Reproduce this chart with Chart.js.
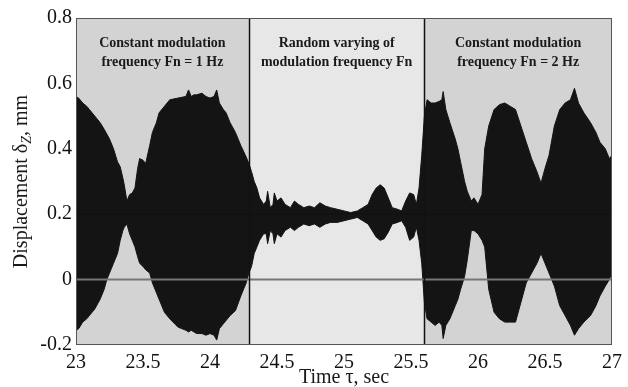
<!DOCTYPE html>
<html>
<head>
<meta charset="utf-8">
<script src="https://cdn.jsdelivr.net/npm/chart.js@4.4.1/dist/chart.umd.min.js"></script>
<style>
  html, body { margin: 0; padding: 0; background: #fff; }
  #wrap { width: 628px; height: 387px; }
</style>
</head>
<body>
<div id="wrap"><canvas id="dispChart" width="628" height="387"></canvas></div>
<script>
// envelope of the (very dense) displacement signal
const times = [
    23.00, 23.02, 23.05, 23.08, 23.10, 23.14, 23.18, 23.21, 23.23, 23.25,
    23.28, 23.31, 23.33, 23.35, 23.36, 23.38, 23.40, 23.42, 23.44, 23.46,
    23.475, 23.50, 23.52, 23.55, 23.57, 23.60, 23.62, 23.66, 23.70, 23.76,
    23.82, 23.84, 23.86, 23.88, 23.90, 23.94, 23.97, 24.00, 24.03, 24.05,
    24.07, 24.10, 24.12, 24.15, 24.19, 24.23, 24.27, 24.29,
    24.31, 24.33, 24.35, 24.37, 24.40, 24.42, 24.43, 24.45, 24.47, 24.48,
    24.50, 24.53, 24.56, 24.60, 24.63, 24.66, 24.70, 24.74, 24.78, 24.82,
    24.86, 24.90, 24.95, 25.00, 25.05, 25.10, 25.14, 25.18, 25.21, 25.24,
    25.27, 25.30, 25.33, 25.36, 25.40, 25.43, 25.46, 25.49, 25.52, 25.54,
    25.56, 25.58,
    25.60, 25.62, 25.65, 25.68, 25.71, 25.73, 25.74, 25.76, 25.79, 25.83,
    25.85, 25.87, 25.90, 25.92, 25.95, 25.97, 26.00, 26.03, 26.05, 26.08,
    26.12, 26.16, 26.20, 26.24, 26.28, 26.32, 26.36, 26.40, 26.44, 26.47,
    26.50, 26.53, 26.57, 26.61, 26.65, 26.69, 26.72, 26.75, 26.79, 26.84,
    26.88, 26.91, 26.95, 26.98, 27.00
];
const upperEnv = [
    0.56, 0.555, 0.54, 0.53, 0.52, 0.50, 0.48, 0.46, 0.445, 0.43,
    0.40, 0.36, 0.345, 0.31, 0.29, 0.24, 0.26, 0.265, 0.28, 0.34,
    0.37, 0.365, 0.355, 0.41, 0.45, 0.48, 0.51, 0.53, 0.55, 0.555,
    0.56, 0.58, 0.56, 0.565, 0.565, 0.57, 0.56, 0.555, 0.56, 0.58,
    0.54, 0.52, 0.51, 0.48, 0.45, 0.41, 0.375, 0.355,
    0.33, 0.30, 0.28, 0.25, 0.23, 0.24, 0.27, 0.22, 0.23, 0.265,
    0.24, 0.25, 0.23, 0.22, 0.24, 0.23, 0.22, 0.225, 0.22, 0.235,
    0.225, 0.22, 0.215, 0.21, 0.205, 0.21, 0.22, 0.23, 0.26, 0.28,
    0.29, 0.28, 0.25, 0.22, 0.215, 0.21, 0.24, 0.265, 0.26, 0.23,
    0.28, 0.38,
    0.50, 0.55, 0.54, 0.54, 0.545, 0.55, 0.575, 0.52, 0.48, 0.43,
    0.40, 0.36, 0.30, 0.27, 0.24, 0.25, 0.23, 0.26, 0.40, 0.47,
    0.52, 0.535, 0.54, 0.53, 0.52, 0.47, 0.42, 0.37, 0.33, 0.295,
    0.34, 0.38, 0.47, 0.52, 0.54, 0.55, 0.585, 0.54, 0.51, 0.48,
    0.45, 0.42, 0.40, 0.37, 0.38
];
const lowerEnv = [
    -0.155, -0.15, -0.13, -0.12, -0.11, -0.09, -0.06, -0.03, 0.0, 0.02,
    0.05, 0.08, 0.12, 0.15, 0.16, 0.17, 0.14, 0.12, 0.10, 0.07,
    0.05, 0.04, 0.03, 0.02, -0.01, -0.04, -0.06, -0.10, -0.12, -0.145,
    -0.155, -0.16, -0.155, -0.16, -0.165, -0.165, -0.17, -0.165, -0.17, -0.185,
    -0.15, -0.135, -0.125, -0.11, -0.095, -0.05, -0.01, 0.02,
    0.04, 0.08, 0.10, 0.12, 0.14, 0.14, 0.11, 0.15, 0.14, 0.11,
    0.14, 0.13, 0.15, 0.16, 0.15, 0.16, 0.17, 0.165, 0.17, 0.16,
    0.17, 0.175, 0.175, 0.18, 0.185, 0.19, 0.18, 0.17, 0.15, 0.13,
    0.12, 0.125, 0.145, 0.17, 0.175, 0.18, 0.16, 0.12, 0.13, 0.16,
    0.12, 0.05,
    -0.07, -0.12, -0.13, -0.14, -0.13, -0.14, -0.18, -0.14, -0.12, -0.08,
    -0.06, -0.03, 0.01, 0.06, 0.15, 0.15, 0.14, 0.12, 0.10, -0.03,
    -0.10, -0.12, -0.13, -0.13, -0.13, -0.07, -0.01, 0.02, 0.05, 0.08,
    0.05, 0.02, -0.02, -0.08, -0.11, -0.14, -0.17, -0.15, -0.13, -0.11,
    -0.08, -0.05, -0.02, 0.0, 0.02
];

const regionEdges = [23, 24.29, 25.6, 27];
const regionNotes = [
    ['Constant modulation', 'frequency Fn = 1 Hz'],
    ['Random varying of', 'modulation frequency Fn'],
    ['Constant modulation', 'frequency Fn = 2 Hz']
];
const regionColors = ['#d3d3d3', '#e7e7e7', '#d3d3d3'];

const xTickLabels = ['23', '23.5', '24', '24.5', '25', '25.5', '26', '26.5', '27'];
const yTickLabels = ['-0.2', '0', '0.2', '0.4', '0.6', '0.8'];
const refLines = [{ y: 0.2, color: '#111', width: 1.5 }, { y: 0, color: '#777', width: 2 }];

const SERIF = "'Liberation Serif', 'Times New Roman', serif";


/**
 * background bands, reference lines, notes and axis titles
 */
const decorPlugin = {
    id: 'decor',
    beforeDatasetsDraw(chart) {
        const { ctx, chartArea: a, scales: { x } } = chart;
        ctx.save();
        for (let i = 0; i < regionColors.length; i++) {
            const x0 = x.getPixelForValue(regionEdges[i]);
            const x1 = x.getPixelForValue(regionEdges[i + 1]);
            ctx.fillStyle = regionColors[i];
            ctx.fillRect(x0, a.top, x1 - x0, a.bottom - a.top);
        }
        ctx.restore();
    },
    afterDatasetsDraw(chart) {
        const { ctx, chartArea: a, scales: { x, y } } = chart;
        ctx.save();

        refLines.forEach(function (l) {
            const py = y.getPixelForValue(l.y);
            ctx.strokeStyle = l.color;
            ctx.lineWidth = l.width;
            ctx.beginPath();
            ctx.moveTo(a.left, py);
            ctx.lineTo(a.right, py);
            ctx.stroke();
        });

        ctx.strokeStyle = '#111';
        ctx.lineWidth = 1.5;
        for (let i = 1; i < regionEdges.length - 1; i++) {
            const px = Math.round(x.getPixelForValue(regionEdges[i])) + 0.5;
            ctx.beginPath();
            ctx.moveTo(px, a.top);
            ctx.lineTo(px, a.bottom);
            ctx.stroke();
        }

        // plot frame
        ctx.strokeStyle = '#555';
        ctx.lineWidth = 1;
        ctx.strokeRect(Math.round(a.left) + 0.5, Math.round(a.top) + 0.5,
            Math.round(a.right - a.left) - 1, Math.round(a.bottom - a.top) - 1);

        // notes in each band
        ctx.fillStyle = '#1a1a1a';
        ctx.font = 'bold 14px ' + SERIF;
        ctx.textAlign = 'center';
        ctx.textBaseline = 'middle';
        regionNotes.forEach(function (lines, i) {
            const cx = (x.getPixelForValue(regionEdges[i]) + x.getPixelForValue(regionEdges[i + 1])) / 2;
            lines.forEach(function (txt, k) {
                ctx.fillText(txt, cx, a.top + 25 + k * 19);
            });
        });

        // x title
        ctx.font = '20px ' + SERIF;
        ctx.fillText('Time \u03c4, sec', (a.left + a.right) / 2, 378);

        // y title with subscript
        const parts = [
            { t: 'Displacement \u03b4', f: '20px ' + SERIF, dy: 0 },
            { t: 'Z', f: 'italic 14px ' + SERIF, dy: 5 },
            { t: ', mm', f: '20px ' + SERIF, dy: 0 }
        ];
        let total = 0;
        parts.forEach(function (p) { ctx.font = p.f; p.w = ctx.measureText(p.t).width; total += p.w; });
        ctx.translate(22, (a.top + a.bottom) / 2);
        ctx.rotate(-Math.PI / 2);
        ctx.textAlign = 'left';
        let cx = -total / 2;
        parts.forEach(function (p) {
            ctx.font = p.f;
            ctx.fillText(p.t, cx, p.dy);
            cx += p.w;
        });
        ctx.restore();
    }
};


const upperPts = times.map(function (t, i) { return { x: t, y: upperEnv[i] }; });
const lowerPts = times.map(function (t, i) { return { x: t, y: lowerEnv[i] }; });

new Chart(document.getElementById('dispChart'), {
    type: 'line',
    data: {
        datasets: [{
            data: upperPts,
            borderColor: '#141414',
            backgroundColor: '#141414',
            borderWidth: 1,
            pointRadius: 0,
            tension: 0,
            fill: '+1'
        }, {
            data: lowerPts,
            borderColor: '#141414',
            borderWidth: 1,
            pointRadius: 0,
            tension: 0,
            fill: false
        }]
    },
    options: {
        responsive: false,
        animation: false,
        devicePixelRatio: 1,
        layout: { padding: { top: 18, right: 13, left: 0, bottom: 0 } },
        plugins: { legend: { display: false }, tooltip: { enabled: false } },
        scales: {
            x: {
                type: 'linear',
                min: 23,
                max: 27,
                grid: { display: false, drawTicks: false },
                border: { display: false },
                ticks: {
                    stepSize: 0.5,
                    padding: 6,
                    color: '#111',
                    font: { family: SERIF, size: 20 },
                    maxRotation: 0,
                    callback: function (v, i) { return xTickLabels[i]; }
                },
                afterFit: function (s) { s.height = 42; }
            },
            y: {
                min: -0.2,
                max: 0.8,
                grid: { display: false, drawTicks: false },
                border: { display: false },
                ticks: {
                    stepSize: 0.2,
                    padding: 4,
                    color: '#111',
                    font: { family: SERIF, size: 20 },
                    callback: function (v, i) { return yTickLabels[i]; }
                },
                afterFit: function (s) { s.width = 76; }
            }
        }
    },
    plugins: [decorPlugin]
});
</script>
</body>
</html>
